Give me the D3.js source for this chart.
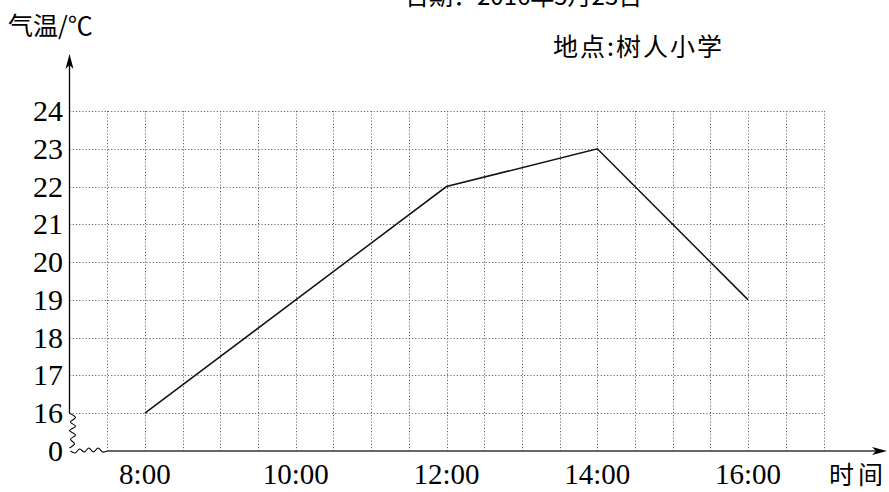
<!DOCTYPE html>
<html><head><meta charset="utf-8">
<script src="https://cdn.jsdelivr.net/npm/d3@7/dist/d3.min.js"></script>
<style>body{margin:0;background:#fff}svg{display:block}</style>
</head><body><svg id="c" width="889" height="492"></svg>
<script>
const hours = [8,12,14,16];
const temps = [16,22,23,19];
const xTickLabels = ["8:00","10:00","12:00","14:00","16:00"];
const xTickHours = [8,10,12,14,16];
const yTickValues = [16,17,18,19,20,21,22,23,24];
const titleText = "日期：2016年5月23日";
const placeText = "地点:树人小学";
const yLabel = "气温/℃";
const xLabel = "时间";

const svg = d3.select("#c");
const serif = "'Liberation Serif','DejaVu Serif',serif";
const cjk = "'Noto Sans CJK SC',sans-serif";

const x = d3.scaleLinear().domain([7,17]).range([69.5,823.5]);
const y = d3.scaleLinear().domain([15,24]).range([451,111]);
const x0 = x(7), y0 = 451;

// grid
const g = svg.append("g");
const gridStyle = s => s.attr("stroke","#666").attr("stroke-width",1).attr("stroke-dasharray","1.2,2");
g.selectAll(".hg").data(yTickValues).join("line")
  .attr("x1",x0).attr("x2",x(17)).attr("y1",d=>Math.round(y(d))+0.5).attr("y2",d=>Math.round(y(d))+0.5).call(gridStyle);
const vgrid = d3.range(7.5,17.01,0.5);
g.selectAll(".vg").data(vgrid).join("line")
  .attr("x1",d=>Math.round(x(d))+0.5).attr("x2",d=>Math.round(x(d))+0.5).attr("y1",y(24)).attr("y2",y0).call(gridStyle);

// axes
const ax = svg.append("g").attr("stroke","#000").attr("fill","none").attr("stroke-width",1.3);
ax.append("line").attr("x1",x0).attr("x2",x0).attr("y1",y(16)).attr("y2",62);
svg.append("path").attr("d",`M${x0},54 L${x0-4},69 L${x0},65 L${x0+4},69 Z`).attr("fill","#000");
ax.append("line").attr("x1",x(7.5)).attr("x2",878).attr("y1",y0).attr("y2",y0).attr("stroke","#333");
svg.append("path").attr("d",`M887,${y0} L872,${y0-4} L876,${y0} L872,${y0+4} Z`).attr("fill","#000");

// wavy breaks
const wl = d3.line().curve(d3.curveCatmullRom);
const yWave = [];
const ya = y(16), yb = y0-3;
const yOff = [0,6,1,6,0,6,1,5,0];
for(let i=0;i<yOff.length;i++){ yWave.push([x0 + yOff[i], ya + (yb-ya)*i/(yOff.length-1)]); }
ax.append("path").attr("d",wl(yWave)).attr("stroke-width",1.1);
const xWave = [];
const xOff = [0,2,-2,1,-3,1,-3,1,0];
const xa = x0+1, xb = x(7.5);
for(let i=0;i<xOff.length;i++){ xWave.push([xa + (xb-xa)*i/(xOff.length-1), y0 + xOff[i]]); }
ax.append("path").attr("d",wl(xWave)).attr("stroke-width",1.1);

// data line
svg.append("path").datum(hours.map((h,i)=>[h,temps[i]]))
  .attr("d",d3.line().x(d=>x(d[0])).y(d=>y(d[1])))
  .attr("fill","none").attr("stroke","#111").attr("stroke-width",1.5);

// y tick labels
svg.selectAll(".yt").data(yTickValues).join("text")
  .attr("x",63).attr("y",d=>y(d)+10).attr("text-anchor","end")
  .attr("font-family",serif).attr("font-size",30).text(d=>d);
svg.append("text").attr("x",63).attr("y",y0+10).attr("text-anchor","end")
  .attr("font-family",serif).attr("font-size",30).text("0");

// x tick labels
svg.selectAll(".xt").data(xTickHours).join("text")
  .attr("x",d=>x(d)).attr("y",484).attr("text-anchor","middle")
  .attr("font-family",serif).attr("font-size",29).text((d,i)=>xTickLabels[i]);

// labels
svg.append("text").attr("x",8).attr("y",35).attr("font-family",cjk).attr("font-size",25).text(yLabel);
svg.append("text").attr("x",829).attr("y",484).attr("font-family",cjk).attr("font-size",25).attr("letter-spacing",4).text(xLabel);
svg.append("text").attr("x",553).attr("y",56).attr("font-family",cjk).attr("font-size",25).attr("letter-spacing",2).text(placeText);
svg.append("text").attr("x",405).attr("y",5).attr("font-family",cjk).attr("font-size",24).text(titleText);
</script></body></html>
